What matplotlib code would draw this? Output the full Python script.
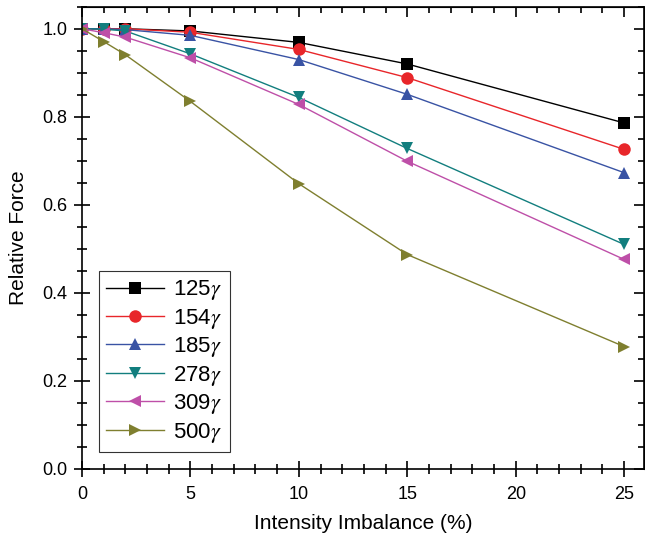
import numpy as np
import matplotlib.pyplot as plt
from matplotlib.ticker import MultipleLocator

plt.rcParams['font.family'] = ['Liberation Sans', 'DejaVu Sans']
plt.rcParams['mathtext.fontset'] = 'stix'

# =========================
# Datos
# =========================
x = [0, 1, 2, 5, 10, 15, 25]

f_125 = [1.0, 1.0, 1.0, 0.995, 0.969, 0.920, 0.786]
f_154 = [1.0, 1.0, 1.0, 0.992, 0.953, 0.889, 0.726]
f_185 = [1.0, 1.0, 0.998, 0.985, 0.930, 0.851, 0.673]
f_278 = [1.0, 0.999, 0.995, 0.943, 0.844, 0.728, 0.510]
f_309 = [1.0, 0.991, 0.981, 0.934, 0.828, 0.699, 0.476]
f_500 = [1.0, 0.971, 0.941, 0.835, 0.648, 0.487, 0.278]

labels = ['125', '154', '185', '278', '309', '500']
series = [f_125, f_154, f_185, f_278, f_309, f_500]
colors = ['#000000', '#E8262A', '#3953A4', '#127E7E', '#BE4FA8', '#7F7F2F']
markers = ['s', 'o', '^', 'v', '<', '>']

fig = plt.figure(figsize=(6.45, 5.35), dpi=100)
ax = fig.add_axes([0.127, 0.1234, 0.871, 0.864])

for y, lab, c, m in zip(series, labels, colors, markers):
    ax.plot(x, y, color=c, marker=m, markersize=9, linewidth=1,
            markeredgewidth=0, label=lab + r'$\gamma$')

ax.set_xlim(0, 25.9)
ax.set_ylim(0, 1.05)

# ejes principales (abajo / izquierda): ticks que cruzan el eje
for axis, major, minor in [(ax.xaxis, 5, 1), (ax.yaxis, 0.2, 0.05)]:
    axis.set_major_locator(MultipleLocator(major))
    axis.set_minor_locator(MultipleLocator(minor))
ax.yaxis.set_major_formatter(plt.FormatStrFormatter('%.1f'))

ax.tick_params(which='both', direction='inout', labelsize=13, width=1.2)
ax.tick_params(which='major', length=11)
ax.tick_params(which='minor', length=7)
ax.tick_params(axis='x', which='major', pad=7)
ax.tick_params(axis='y', which='major', pad=5)

# ejes superior / derecho: ticks hacia dentro, sin etiquetas
top = ax.secondary_xaxis('top')
right = ax.secondary_yaxis('right')
top.xaxis.set_major_locator(MultipleLocator(5))
top.xaxis.set_minor_locator(MultipleLocator(1))
right.yaxis.set_major_locator(MultipleLocator(0.2))
right.yaxis.set_minor_locator(MultipleLocator(0.05))
for sec in (top, right):
    sec.tick_params(which='both', direction='in', labelleft=False,
                    labelright=False, labeltop=False, labelbottom=False,
                    width=1.2)
    sec.tick_params(which='major', length=7)
    sec.tick_params(which='minor', length=4)

for s in ax.spines.values():
    s.set_linewidth(1.2)

ax.set_xlabel('Intensity Imbalance (%)', fontsize=15, labelpad=8)
ax.set_ylabel('Relative Force', fontsize=15, labelpad=10)

leg = ax.legend(loc='lower left', bbox_to_anchor=(0.01, 0.012), fontsize=16,
                frameon=True, fancybox=False, handlelength=2.6,
                labelspacing=0.2, borderpad=0.35, handletextpad=0.4)
leg.get_frame().set_edgecolor('black')
leg.get_frame().set_linewidth(0.8)

fig.savefig('out.png', dpi=100)
